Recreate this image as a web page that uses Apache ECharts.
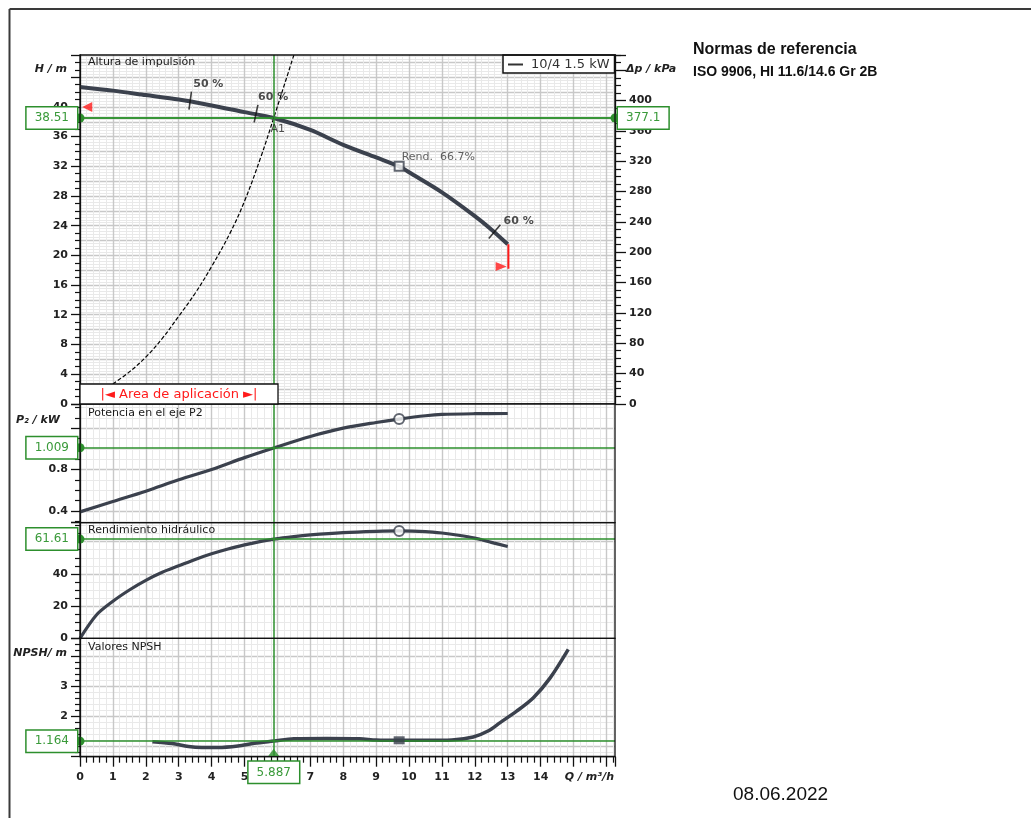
<!DOCTYPE html>
<html><head><meta charset="utf-8">
<script src="https://cdn.jsdelivr.net/npm/echarts@6/dist/echarts.min.js"></script>
<style>html,body{margin:0;padding:0;background:#fff;}#c{width:1031px;height:818px;}</style>
</head><body><div id="c"></div>
<script>
// ---------------- data ----------------
const qH     = [0, 1, 2, 3, 4, 5, 5.887, 7, 8, 9, 9.7, 10, 11, 12, 12.5, 13];
const hVals  = [42.7, 42.2, 41.6, 41.0, 40.2, 39.3, 38.51, 36.9, 34.9, 33.2, 32.0, 31.2, 28.5, 25.3, 23.5, 21.5];
const qSys   = [1.0, 1.5, 2, 2.5, 3, 3.5, 4, 4.56, 5, 5.5, 5.887, 6.5];
const hSys   = [2.7, 4.3, 6.3, 8.8, 11.8, 14.9, 18.5, 23.0, 27.3, 33.3, 38.51, 47.0];
const qP     = [0, 1, 2, 3, 4, 5, 5.887, 7, 8, 9, 9.7, 10.5, 11, 12, 13];
const pVals  = [0.39, 0.49, 0.59, 0.70, 0.80, 0.915, 1.009, 1.12, 1.20, 1.255, 1.288, 1.32, 1.333, 1.34, 1.342];
const qEta   = [0, 0.5, 1, 1.5, 2, 2.5, 3, 3.5, 4, 4.5, 5, 5.5, 5.887, 6.5, 7, 8, 9, 9.7, 10.5, 11, 11.5, 12, 12.5, 13];
const etaVals= [0, 14.5, 23, 30, 36, 41, 45, 49, 52.5, 55.5, 58, 60.2, 61.61, 63.2, 64.2, 65.6, 66.4, 66.7, 66.3, 65.4, 64, 62.2, 59.6, 57];
const qNpsh  = [2.2, 2.8, 3.3, 3.7, 4.2, 4.8, 5.3, 5.887, 6.5, 7.5, 8.5, 9.0, 9.7, 10.5, 11.3, 11.95, 12.4, 12.77, 13.27, 13.78, 14.29, 14.84];
const npshVals=[1.14, 1.08, 0.98, 0.95, 0.95, 1.0, 1.09, 1.164, 1.24, 1.25, 1.24, 1.2, 1.19, 1.19, 1.2, 1.3, 1.5, 1.78, 2.16, 2.61, 3.27, 4.22];
// efficiency marks on the H curve
const effQ     = [3.35, 5.35, 12.6];
const effH     = [40.85, 39.1, 23.2];
const effLabel = ['50 %', '60 %', '60 %'];
// best efficiency point
const bepQ = 9.7, bepH = 32.0, bepP = 1.288, bepEta = 66.7, bepNpsh = 1.19;
const bepLabel = 'Rend.  66.7%';
// operating point A1
const opQ = 5.887, opH = 38.51, opDp = 377.1, opP = 1.009, opEta = 61.61, opNpsh = 1.164;
// application range limits
const limLeft  = [[0.22, 40.0]];
const limRightLine = [[13.02, 21.5], [13.02, 18.2]];
const limRightMark = [[12.8, 18.5]];
// axis ranges
const qMax = 16.26;
const hMax = 47, dpMax = 460.2;
const pMin = 0.285, pMax = 1.436;
const etaMax = 71.8;
const nMin = 0.643, nMax = 4.59;
const seriesName = '10/4 1.5 kW';

// ---------------- styling ----------------
const DARK = '#3b414d', G = '#2d8f2d', GT = '#3a9a3a', RED = '#ff1a1a';
const FONT = 'DejaVu Sans';
const zip = (a, b) => a.map((v, i) => [v, b[i]]);
const near = (v, t) => Math.abs(v - t) < 1e-6;

const gridTop = [55, 403.8, 522.7, 638.3];
const gridBot = [403.8, 522.7, 638.3, 756.7];
const gridLeft = 80, gridRight = 615;
const grids = gridTop.map((t, i) => ({
  left: gridLeft, right: 1031 - gridRight, top: t, height: gridBot[i] - t, show: false
}));

const majorSplit = {show: true, showMinLine: false, showMaxLine: false, lineStyle: {color: '#c8c8c8', width: 1.4}};
const minorSplit = {show: true, lineStyle: {color: '#e9e9e9', width: 1}};
const tickLbl = {fontFamily: FONT, fontSize: 11, fontWeight: 'bold', color: '#222'};

const xAxes = [0, 1, 2, 3].map(i => ({
  type: 'value', gridIndex: i, min: 0, max: qMax, interval: 1,
  axisLine: {show: i === 3, lineStyle: {color: '#111', width: 1.3}},
  axisTick: {show: i === 3, length: 10, lineStyle: {color: '#111', width: 1.3}},
  minorTick: {show: i === 3, splitNumber: 5, length: 6, lineStyle: {color: '#111', width: 1.2}},
  axisLabel: Object.assign({show: i === 3, margin: 15,
    formatter: v => (Number.isInteger(v) && v <= 14) ? String(v) : ''}, tickLbl),
  splitLine: majorSplit, minorSplitLine: Object.assign({}, minorSplit)
}));

const yBase = (o) => Object.assign({
  type: 'value',
  axisLine: {show: true, lineStyle: {color: '#111', width: 1.3}},
  axisTick: {show: true, length: 9, lineStyle: {color: '#111', width: 1.3}},
  minorTick: {show: true, length: 5, lineStyle: {color: '#111', width: 1.2}},
  splitLine: {show: false}
}, o);

const yAxes = [
  // 0: H
  yBase({gridIndex: 0, min: 0, max: hMax, interval: 4, minorTick: {show: true, splitNumber: 4, length: 5, lineStyle: {color: '#111', width: 1.2}},
    axisLabel: Object.assign({margin: 12, formatter: v => (Number.isInteger(v) && v % 4 === 0 && v !== 44) ? String(v) : ''}, tickLbl)}),
  // 1: H grid lines
  {type: 'value', gridIndex: 0, min: 0, max: hMax, interval: 2, axisLine: {show: false}, axisTick: {show: false},
    axisLabel: {show: false}, splitLine: majorSplit, minorTick: {show: false}, minorSplitLine: Object.assign({splitNumber: 4}, minorSplit)},
  // 2: delta p (right)
  yBase({gridIndex: 0, position: 'right', min: 0, max: dpMax, interval: 40,
    minorTick: {show: true, splitNumber: 4, length: 6, lineStyle: {color: '#111', width: 1.2}},
    axisTick: {show: true, length: 11, lineStyle: {color: '#111', width: 1.3}},
    axisLabel: Object.assign({margin: 14, formatter: v => (Number.isInteger(v) && v % 40 === 0 && v !== 440) ? String(v) : ''}, tickLbl)}),
  // 3: power
  yBase({gridIndex: 1, min: pMin, max: pMax, minInterval: 0.4, maxInterval: 0.4,
    minorTick: {show: true, splitNumber: 4, length: 5, lineStyle: {color: '#111', width: 1.2}},
    splitLine: majorSplit, minorSplitLine: Object.assign({splitNumber: 4}, minorSplit),
    axisLabel: Object.assign({margin: 12, formatter: v => (near(v, 0.4) || near(v, 0.8)) ? v.toFixed(1) : ''}, tickLbl)}),
  // 4: efficiency
  yBase({gridIndex: 2, min: 0, max: etaMax, interval: 20,
    minorTick: {show: true, splitNumber: 4, length: 5, lineStyle: {color: '#111', width: 1.2}},
    splitLine: majorSplit, minorSplitLine: Object.assign({splitNumber: 4}, minorSplit),
    axisLabel: Object.assign({margin: 12, formatter: v => (Number.isInteger(v) && v % 20 === 0) ? String(v) : ''}, tickLbl)}),
  // 5: NPSH
  yBase({gridIndex: 3, min: nMin, max: nMax, minInterval: 1, maxInterval: 1,
    minorTick: {show: true, splitNumber: 5, length: 5, lineStyle: {color: '#111', width: 1.2}},
    splitLine: majorSplit, minorSplitLine: Object.assign({splitNumber: 5}, minorSplit),
    axisLabel: Object.assign({margin: 12, formatter: v => (near(v, 2) || near(v, 3)) ? String(Math.round(v)) : ''}, tickLbl)})
];

const boxLabel = (txt, pos, dist) => ({
  show: true, position: pos, distance: dist, formatter: txt,
  color: GT, fontSize: 12, fontFamily: FONT, backgroundColor: '#fff',
  borderColor: G, borderWidth: 1.5, padding: [5, 8, 4, 8]
});
function hLine(xi, yi, x, val, side) {
  return {type: 'line', xAxisIndex: xi, yAxisIndex: yi, data: [[x, val]], showSymbol: false, silent: true,
    lineStyle: {width: 0}, z: 5,
    markLine: {silent: true, animation: false, symbol: side === 'start' ? ['circle', 'none'] : ['none', 'circle'],
      symbolSize: 9, lineStyle: {color: G, width: 1.5, type: 'solid'},
      label: boxLabel(String(val), side, 3), data: [{yAxis: val}]}};
}
function vLine(xi, yi, yv, withLabel) {
  return {type: 'line', xAxisIndex: xi, yAxisIndex: yi, data: [[opQ, yv]], showSymbol: false, silent: true,
    lineStyle: {width: 0}, z: 5,
    markLine: {silent: true, animation: false, symbol: ['none', 'none'],
      lineStyle: {color: G, width: 1.5, type: 'solid'},
      label: withLabel ? boxLabel(String(opQ), 'start', 5) : {show: false}, data: [{xAxis: opQ}]}};
}
const curve = (xi, yi, q, v, w, name) => ({
  type: 'line', name: name, xAxisIndex: xi, yAxisIndex: yi, data: zip(q, v), smooth: 0.3,
  showSymbol: false, symbol: 'none', lineStyle: {color: DARK, width: w}, itemStyle: {color: DARK}, z: 3, silent: true
});
const hollow = (xi, yi, pt, sym, size) => ({
  type: 'scatter', xAxisIndex: xi, yAxisIndex: yi, data: [pt], symbol: sym, symbolSize: size, z: 6, silent: true,
  itemStyle: {color: '#fff', borderColor: DARK, borderWidth: 2}
});

const effRot = [-8, -12, -40];
const effOff = [[3, 3], [2, 3], [9, 7]];

const series = [
  curve(0, 0, qH, hVals, 4, seriesName),
  {type: 'line', xAxisIndex: 0, yAxisIndex: 0, data: zip(qSys, hSys), smooth: 0.4, showSymbol: false, silent: true,
    lineStyle: {color: '#000', width: 1.2, type: [4, 2]}, z: 2},
  {type: 'scatter', xAxisIndex: 0, yAxisIndex: 0, silent: true, z: 7,
    data: effQ.map((q, i) => ({value: [q, effH[i]], symbolRotate: effRot[i],
      label: {show: true, formatter: effLabel[i], position: 'top', align: 'left', offset: effOff[i]}})),
    symbol: 'rect', symbolSize: [1.6, 18], itemStyle: {color: '#111'},
    label: {color: '#222', fontFamily: FONT, fontSize: 11, fontWeight: 'bold'}},
  Object.assign(hollow(0, 0, [bepQ, bepH], 'rect', 9), {
    label: {show: true, formatter: bepLabel, position: 'right', offset: [-8, -9], color: '#3a3a3a', fontFamily: FONT, fontSize: 11}}),
  {type: 'scatter', xAxisIndex: 0, yAxisIndex: 0, data: [[opQ, opH]], symbol: 'circle', symbolSize: 1, silent: true, z: 7,
    itemStyle: {color: '#111'},
    label: {show: true, formatter: 'A1', position: 'bottom', offset: [4, 0], color: '#222', fontFamily: FONT, fontSize: 11}},
  {type: 'scatter', xAxisIndex: 0, yAxisIndex: 0, data: limLeft, symbol: 'triangle', symbolRotate: 90, symbolSize: 10,
    itemStyle: {color: RED}, silent: true, z: 7},
  {type: 'line', xAxisIndex: 0, yAxisIndex: 0, data: limRightLine, showSymbol: false, silent: true,
    lineStyle: {color: RED, width: 2}, z: 7},
  {type: 'scatter', xAxisIndex: 0, yAxisIndex: 0, data: limRightMark, symbol: 'triangle', symbolRotate: -90, symbolSize: [9, 11],
    itemStyle: {color: RED}, silent: true, z: 7},
  curve(1, 3, qP, pVals, 3.2),
  hollow(1, 3, [bepQ, bepP], 'circle', 10),
  curve(2, 4, qEta, etaVals, 3.2),
  hollow(2, 4, [bepQ, bepEta], 'circle', 10),
  curve(3, 5, qNpsh, npshVals, 3.5),
  {type: 'scatter', xAxisIndex: 3, yAxisIndex: 5, data: [[bepQ, bepNpsh]], symbol: 'rect', symbolSize: [11, 8],
    itemStyle: {color: DARK}, silent: true, z: 6},
  // operating point lines
  hLine(0, 0, 0, opH, 'start'),
  hLine(0, 2, 0, opDp, 'end'),
  hLine(1, 3, 0, opP, 'start'),
  hLine(2, 4, 0, opEta, 'start'),
  hLine(3, 5, 0, opNpsh, 'start'),
  vLine(0, 0, opH, false),
  vLine(1, 3, opP, false),
  vLine(2, 4, opEta, false),
  vLine(3, 5, opNpsh, true),
  {type: 'scatter', xAxisIndex: 3, yAxisIndex: 5, data: [[opQ, nMin]], symbol: 'triangle', symbolSize: [12, 8],
    symbolOffset: [0, -4], itemStyle: {color: G}, silent: true, z: 8}
];

const txt = (x, y, text, font, fill, align, extra) => ({type: 'text', z: 100,
  style: Object.assign({x: x, y: y, text: text, font: font, fill: fill || '#222', align: align || 'left', verticalAlign: 'middle'}, extra || {})});

const borders = gridTop.map((t, i) => ({type: 'rect', z: 90, silent: true,
  shape: {x: gridLeft, y: t, width: gridRight - gridLeft, height: gridBot[i] - t},
  style: {fill: 'none', stroke: '#111', lineWidth: 1.3}}));

const graphic = borders.concat([
  {type: 'line', z: 100, shape: {x1: 9.5, y1: 9, x2: 1031, y2: 9}, style: {stroke: '#3a3a3a', lineWidth: 2}},
  {type: 'line', z: 100, shape: {x1: 9.5, y1: 9, x2: 9.5, y2: 818}, style: {stroke: '#3a3a3a', lineWidth: 2}},
  // application range box
  {type: 'rect', z: 100, shape: {x: 80, y: 384, width: 198, height: 20}, style: {fill: '#fff', stroke: '#111', lineWidth: 1.3}},
  txt(179, 394.5, '|◄ Area de aplicación ►|', '13px "DejaVu Sans"', RED, 'center'),
  // panel titles
  txt(88, 62.5, 'Altura de impulsión', '11px "DejaVu Sans"', '#1a1a1a'),
  txt(88, 413.5, 'Potencia en el eje P2', '11px "DejaVu Sans"', '#1a1a1a'),
  txt(88, 530.5, 'Rendimiento hidráulico', '11px "DejaVu Sans"', '#1a1a1a'),
  txt(88, 647.5, 'Valores NPSH', '11px "DejaVu Sans"', '#1a1a1a'),
  // axis names
  txt(67, 69, 'H / m', 'italic bold 11px "DejaVu Sans"', '#222', 'right'),
  txt(626, 69, 'Δp / kPa', 'italic bold 11px "DejaVu Sans"', '#222', 'left'),
  txt(60, 420, 'P₂ / kW', 'italic bold 11px "DejaVu Sans"', '#222', 'right'),
  txt(67, 653, 'NPSH/ m', 'italic bold 11px "DejaVu Sans"', '#222', 'right'),
  txt(614, 777, 'Q / m³/h', 'italic bold 11px "DejaVu Sans"', '#222', 'right'),
  // header / footer
  txt(693, 50, 'Normas de referencia', 'bold 16px "Liberation Sans"', '#111'),
  txt(693, 72, 'ISO 9906, HI 11.6/14.6 Gr 2B', 'bold 14px "Liberation Sans"', '#111'),
  txt(733, 795, '08.06.2022', '19px "Liberation Sans"', '#111')
]);

const chart = echarts.init(document.getElementById('c'), null, {renderer: 'canvas'});
chart.setOption({
  animation: false,
  backgroundColor: '#fff',
  textStyle: {fontFamily: FONT},
  legend: {show: true, data: [seriesName], left: 503, top: 55, padding: [3, 5, 2, 5], itemGap: 0,
    icon: 'rect', itemWidth: 15, itemHeight: 2, backgroundColor: '#fff', borderColor: '#111', borderWidth: 1.5,
    borderRadius: 0, textStyle: {fontFamily: FONT, fontSize: 13, color: '#333', padding: [0, 0, 0, 3]},
    itemStyle: {color: '#333'}, selectedMode: false, z: 50},
  grid: grids,
  xAxis: xAxes,
  yAxis: yAxes,
  series: series,
  graphic: graphic
});
</script></body></html>
